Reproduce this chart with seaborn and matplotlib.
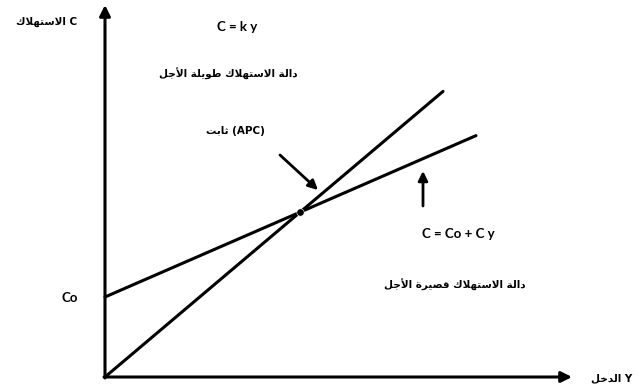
import matplotlib
matplotlib.use("Agg")
import matplotlib.pyplot as plt
import seaborn as sns
import numpy as np
import pandas as pd

# ---- model values (income Y, consumption C) ----
k = 0.845                 # long-run propensity: C = k y
co = 8.0                  # autonomous consumption Co
c = 0.435                 # short-run slope: C = Co + c y
income_long = [0.0, 33.8]
income_short = [0.0, 37.1]
axis_top = 37.2
axis_right = 46.7

# ---- labels ----
label_c_axis = "الاستهلاك"
label_y_axis = "الدخل"
label_long = "دالة الاستهلاك طويلة الأجل"
label_short = "دالة الاستهلاك قصيرة الأجل"
label_apc = "ثابت"
eq_long = "C = k y"
eq_short = "C = Co + C y"
label_co = "Co"

# ---- minimal Arabic shaping into presentation forms (visual order) ----
FORMS = {
    'ا': ('\uFE8D', '\uFE8E', None, None),
    'أ': ('\uFE83', '\uFE84', None, None),
    'ب': ('\uFE8F', '\uFE90', '\uFE91', '\uFE92'),
    'ة': ('\uFE93', '\uFE94', None, None),
    'ت': ('\uFE95', '\uFE96', '\uFE97', '\uFE98'),
    'ث': ('\uFE99', '\uFE9A', '\uFE9B', '\uFE9C'),
    'ج': ('\uFE9D', '\uFE9E', '\uFE9F', '\uFEA0'),
    'خ': ('\uFEA5', '\uFEA6', '\uFEA7', '\uFEA8'),
    'د': ('\uFEA9', '\uFEAA', None, None),
    'ر': ('\uFEAD', '\uFEAE', None, None),
    'س': ('\uFEB1', '\uFEB2', '\uFEB3', '\uFEB4'),
    'ص': ('\uFEB9', '\uFEBA', '\uFEBB', '\uFEBC'),
    'ط': ('\uFEC1', '\uFEC2', '\uFEC3', '\uFEC4'),
    'ق': ('\uFED5', '\uFED6', '\uFED7', '\uFED8'),
    'ك': ('\uFED9', '\uFEDA', '\uFEDB', '\uFEDC'),
    'ل': ('\uFEDD', '\uFEDE', '\uFEDF', '\uFEE0'),
    'ه': ('\uFEE9', '\uFEEA', '\uFEEB', '\uFEEC'),
    'و': ('\uFEED', '\uFEEE', None, None),
    'ي': ('\uFEF1', '\uFEF2', '\uFEF3', '\uFEF4'),
    'لا': ('\uFEFB', '\uFEFC', None, None),
    'لأ': ('\uFEF7', '\uFEF8', None, None),
}


def shape_word(word):
    units, i = [], 0
    while i < len(word):
        if word[i] == 'ل' and i + 1 < len(word) and word[i + 1] in 'اأ':
            units.append(word[i:i + 2])
            i += 2
        else:
            units.append(word[i])
            i += 1
    out = []
    for j, u in enumerate(units):
        f = FORMS.get(u)
        if f is None:
            out.append(u)
            continue
        prev = units[j - 1] if j > 0 else None
        nxt = units[j + 1] if j + 1 < len(units) else None
        jp = prev in FORMS and FORMS[prev][2] is not None
        jn = f[2] is not None and nxt in FORMS
        if jp and jn:
            out.append(f[3])
        elif jp:
            out.append(f[1])
        elif jn:
            out.append(f[2])
        else:
            out.append(f[0])
    return ''.join(reversed(out))


def rtl(text):
    return ' '.join(shape_word(w) for w in reversed(text.split(' ')))


# ---- figure ----
sns.set_theme(style="white")
plt.rcParams['font.family'] = ['DejaVu Sans']

fig = plt.figure(figsize=(6.42, 3.92), dpi=100)
ax = fig.add_axes([0, 0, 1, 1])
ax.set_xlim(-10.5, 53.7)
ax.set_ylim(-1.5, 37.7)
ax.axis("off")

lw = 2.2
df_long = pd.DataFrame({"Y": income_long, "C": [k * y for y in income_long]})
df_short = pd.DataFrame({"Y": income_short, "C": [co + c * y for y in income_short]})
sns.lineplot(data=df_long, x="Y", y="C", color="black", lw=lw, ax=ax)
sns.lineplot(data=df_short, x="Y", y="C", color="black", lw=lw, ax=ax)

# intersection of the two functions
y_star = co / (k - c)
sns.scatterplot(x=[y_star], y=[k * y_star], color="black", s=28, ax=ax, zorder=5)

# axes with arrow heads
arrow_axis = dict(arrowstyle="-|>", lw=2.2, color="black", mutation_scale=16,
                  shrinkA=0, shrinkB=0)
ax.annotate("", xy=(0, axis_top), xytext=(0, -0.1), arrowprops=arrow_axis)
ax.annotate("", xy=(axis_right, 0), xytext=(-0.1, 0), arrowprops=arrow_axis)

# pointer arrows
arrow_ptr = dict(arrowstyle="-|>", lw=2.0, color="black", mutation_scale=14,
                 shrinkA=0, shrinkB=0)
ax.annotate("", xy=(21.3, 18.7), xytext=(17.5, 22.2), arrowprops=arrow_ptr)
ax.annotate("", xy=(31.8, 20.6), xytext=(31.8, 17.1), arrowprops=arrow_ptr)

ar = dict(family=['DejaVu Sans'], fontweight="bold", fontsize=7.5, color="black")
la = dict(family=['Lato', 'DejaVu Sans'], fontweight="bold", fontsize=9.5, color="black")

ax.text(-2.8, 35.5, rtl(label_c_axis) + " C", ha="right", va="center", **ar)
ax.text(13.2, 35.0, eq_long, ha="center", va="center", **la)
ax.text(12.3, 30.3, rtl(label_long), ha="center", va="center", **ar)
ax.text(13.0, 24.6, rtl(label_apc) + " (APC)", ha="center", va="center", **ar)
ax.text(35.3, 14.3, eq_short, ha="center", va="center", **la)
ax.text(35.0, 9.2, rtl(label_short), ha="center", va="center", **ar)
ax.text(-3.5, 7.9, label_co, ha="center", va="center", **la)
ax.text(50.7, -0.1, rtl(label_y_axis) + " Y", ha="center", va="center", **ar)

fig.savefig("out.png", dpi=100, facecolor="white")
